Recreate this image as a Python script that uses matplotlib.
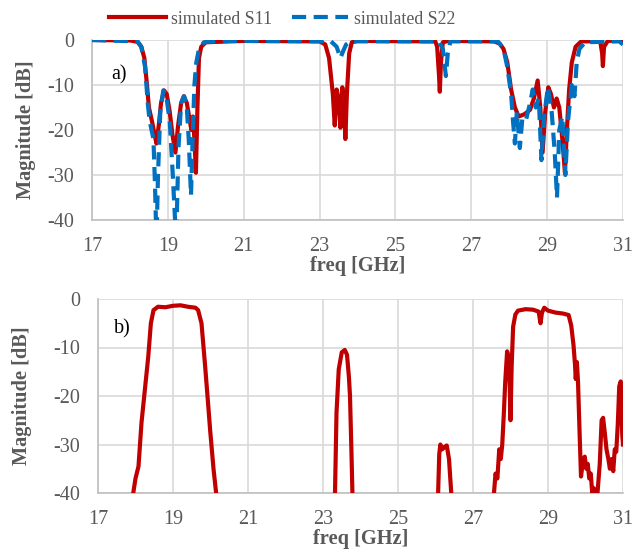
import matplotlib
matplotlib.use("Agg")
import matplotlib.pyplot as plt
import numpy as np

# ---- data -------------------------------------------------------------
s11_f = [17.0, 18.0, 18.2, 18.3, 18.38, 18.45, 18.5, 18.58, 18.65, 18.7, 18.76, 18.82, 18.9, 18.97,
         19.05, 19.12, 19.2, 19.27, 19.35, 19.42, 19.5, 19.58, 19.62, 19.66, 19.7, 19.74, 19.78,
         19.82, 19.88, 20.0, 21.0, 23.0, 23.15, 23.25, 23.35, 23.4, 23.45, 23.5, 23.55, 23.6,
         23.65, 23.68, 23.72, 23.78, 23.85, 24.0, 26.05, 26.1, 26.15, 26.17, 26.2, 26.25, 26.4,
         27.6, 27.75, 27.85, 27.95, 28.05, 28.15, 28.25, 28.4, 28.55, 28.65, 28.75, 28.82, 28.88,
         28.95, 29.03, 29.1, 29.18, 29.25, 29.32, 29.4, 29.47, 29.52, 29.58, 29.65, 29.75, 29.9,
         30.4, 30.45, 30.47, 30.5, 30.6, 31.0]
s11_db = [0, -0.1, -0.4, -1.5, -4, -10, -15, -18, -21, -23, -19, -14, -11.2, -12,
          -16, -21, -25, -19, -14, -12.5, -14, -18, -20, -17, -22, -29.5, -15,
          -4, -1.5, -0.5, -0.2, -0.3, -1, -4, -12, -19, -11, -13, -19.5, -10.5,
          -15, -22, -12, -3, -0.5, -0.2, -0.3, -1.5, -8, -11.5, -5, -0.5, -0.2,
          -0.3, -0.8, -2, -5, -11, -15, -17, -16.5, -15.5, -13, -9, -15, -25,
          -16, -10.5, -12, -15, -13, -15, -22, -29.5, -20, -11, -5, -1.5, -0.3,
          -0.3, -3, -5.8, -1.5, -0.2, -0.1]

s22_f = [17.0, 18.2, 18.3, 18.4, 18.47, 18.52, 18.57, 18.62, 18.66, 18.7, 18.74, 18.8, 18.88, 18.95,
         19.05, 19.13, 19.22, 19.28, 19.35, 19.43, 19.5, 19.55, 19.61, 19.66, 19.7, 19.75, 19.82,
         19.95, 20.5, 23.3, 23.45, 23.55, 23.62, 23.7, 23.8, 26.15, 26.25, 26.33, 26.38, 26.45,
         27.7, 27.85, 27.95, 28.05, 28.1, 28.15, 28.2, 28.28, 28.35, 28.45, 28.55, 28.62, 28.7,
         28.78, 28.85, 28.92, 29.02, 29.12, 29.2, 29.26, 29.32, 29.4, 29.48, 29.55, 29.65, 29.72,
         29.78, 29.85, 30.0, 30.9, 31.0]
s22_db = [0, -0.3, -1.5, -6, -14, -18, -20, -22, -32, -45, -30, -16, -11.2, -12,
          -18, -30, -45, -24, -14, -12.5, -15, -22, -34.5, -20, -10, -5, -2,
          -0.5, -0.2, -0.3, -1.5, -4, -2.5, -1, -0.3, -0.3, -2, -8, -3, -0.3,
          -0.3, -2, -6, -12, -18, -23, -16, -24, -17, -17.5, -14, -11, -15,
          -13, -26.7, -17, -10.5, -16, -25, -35, -20, -17, -30, -18, -10, -12.5,
          -5, -2, -0.5, -0.3, -1]

s21_f = [17.9, 17.94, 18.0, 18.08, 18.16, 18.25, 18.34, 18.41, 18.48, 18.6, 18.8, 19.0, 19.2, 19.4,
         19.6, 19.67, 19.76, 19.85, 19.92, 19.99, 20.08, 20.15, 20.2,
         None,
         23.28, 23.32, 23.36, 23.42, 23.5, 23.58, 23.64, 23.69, 23.72, 23.76, 23.8,
         None,
         26.03, 26.07, 26.1, 26.13, 26.18, 26.24, 26.3, 26.36, 26.42, 26.46,
         None,
         27.5, 27.56, 27.6, 27.65, 27.7, 27.74, 27.78, 27.82, 27.86, 27.91, 27.95, 27.98, 28.0,
         28.03, 28.07, 28.13, 28.2, 28.4, 28.6, 28.75, 28.8, 28.84, 28.9, 29.0, 29.2, 29.4,
         29.55, 29.62, 29.68, 29.72, 29.74, 29.77, 29.8, 29.84, 29.88, 29.93, 29.98, 30.02,
         30.06, 30.1, 30.14, 30.18, 30.22, 30.26, 30.32, 30.38, 30.43, 30.47, 30.52, 30.56,
         30.61, 30.65, 30.7, 30.74, 30.78, 30.82, 30.86, 30.9, 30.94, 30.98, 31.0]
s21_db = [-45, -40, -37, -34.5, -25.5, -18.7, -11.9, -5, -2.3, -1.6, -1.7, -1.4, -1.3, -1.6,
          -1.8, -2.3, -5, -13.2, -20, -27, -35, -40, -45,
          None,
          -45, -40, -23.5, -14.5, -11, -10.5, -11.5, -16, -20, -32, -45,
          None,
          -45, -40, -32, -30, -31, -30.5, -30.2, -33, -40, -45,
          None,
          -45, -40, -36, -37, -31, -33, -30, -24, -17, -10.8, -12, -18, -25,
          -14, -5.7, -3.2, -2.4, -2.1, -2.2, -2.6, -5, -2.8, -1.8, -2.4, -2.8, -3.0,
          -3.3, -5.5, -9.5, -13.5, -16.5, -13, -17, -27, -36.6, -33.5, -32.5, -35,
          -34, -37, -36, -40, -39, -42, -40, -34, -25, -24.5, -28, -31,
          -33, -35, -33, -35.5, -31, -31.5, -26, -18, -17, -28, -30]

x_ticks = [17, 19, 21, 23, 25, 27, 29, 31]
y_ticks = [0, -10, -20, -30, -40]

# ---- style ------------------------------------------------------------
RED = "#C00000"
BLUE = "#0070C0"
GRAY_TXT = "#595959"
GRID = "#d9d9d9"
SPINE = "#bfbfbf"
FONT = ["Liberation Serif", "DejaVu Serif"]

plt.rcParams["font.family"] = FONT
plt.rcParams["axes.unicode_minus"] = False

fig = plt.figure(figsize=(6.32, 5.5), dpi=100)
ax1 = fig.add_axes([92 / 632, 1 - 220 / 550, (623 - 92) / 632, 180 / 550])
ax2 = fig.add_axes([98 / 632, 1 - 493 / 550, (623 - 98) / 632, 194 / 550])


def seg(xs, ys):
    x = np.array([np.nan if v is None else v for v in xs], dtype=float)
    y = np.array([np.nan if v is None else v for v in ys], dtype=float)
    return x, y


l1, = ax1.plot(s11_f, s11_db, color=RED, lw=3.0, solid_joinstyle="round",
               label="simulated S11", zorder=3)
l2, = ax1.plot(s22_f, s22_db, color=BLUE, lw=3.0, ls=(0, (3.4, 1.8)),
               dash_capstyle="butt", label="simulated S22", zorder=4)
x3, y3 = seg(s21_f, s21_db)
ax2.plot(x3, y3, color=RED, lw=3.0, solid_joinstyle="round", zorder=3)

labpos = {"a)": (0.051, 0.806), "b)": (0.046, 0.845)}
ylpad = {"a)": 8, "b)": 15}
for ax, lab in ((ax1, "a)"), (ax2, "b)")):
    ax.set_xlim(17, 31)
    ax.set_ylim(-40, 0)
    ax.set_xticks(x_ticks)
    ax.set_yticks(y_ticks)
    ax.grid(True, color=GRID, lw=1.2)
    ax.set_axisbelow(True)
    for s in ("top", "right"):
        ax.spines[s].set_visible(False)
    for s in ("left", "bottom"):
        ax.spines[s].set_color(SPINE)
        ax.spines[s].set_linewidth(1.2)
    ax.tick_params(length=0, labelsize=14.5, labelcolor=GRAY_TXT)
    ax.tick_params(axis="x", pad=12)
    ax.tick_params(axis="y", pad=13)
    ax.set_xlabel("freq [GHz]", fontsize=14.7, fontweight="bold", color=GRAY_TXT, labelpad=0)
    ax.set_ylabel("Magnitude [dB]", fontsize=14.7, fontweight="bold", color=GRAY_TXT,
                  labelpad=ylpad[lab])
    ax.text(labpos[lab][0], labpos[lab][1], lab, transform=ax.transAxes, fontsize=14.5,
            color="black", va="center", ha="center")

fig.legend(handles=[l1, l2], loc="center", bbox_to_anchor=(282 / 632, 1 - 19 / 550),
           ncol=2, frameon=False, fontsize=12.8, handlelength=3.2, columnspacing=1.1,
           handletextpad=0.3, labelcolor=GRAY_TXT)

fig.savefig("out.png", dpi=100)
